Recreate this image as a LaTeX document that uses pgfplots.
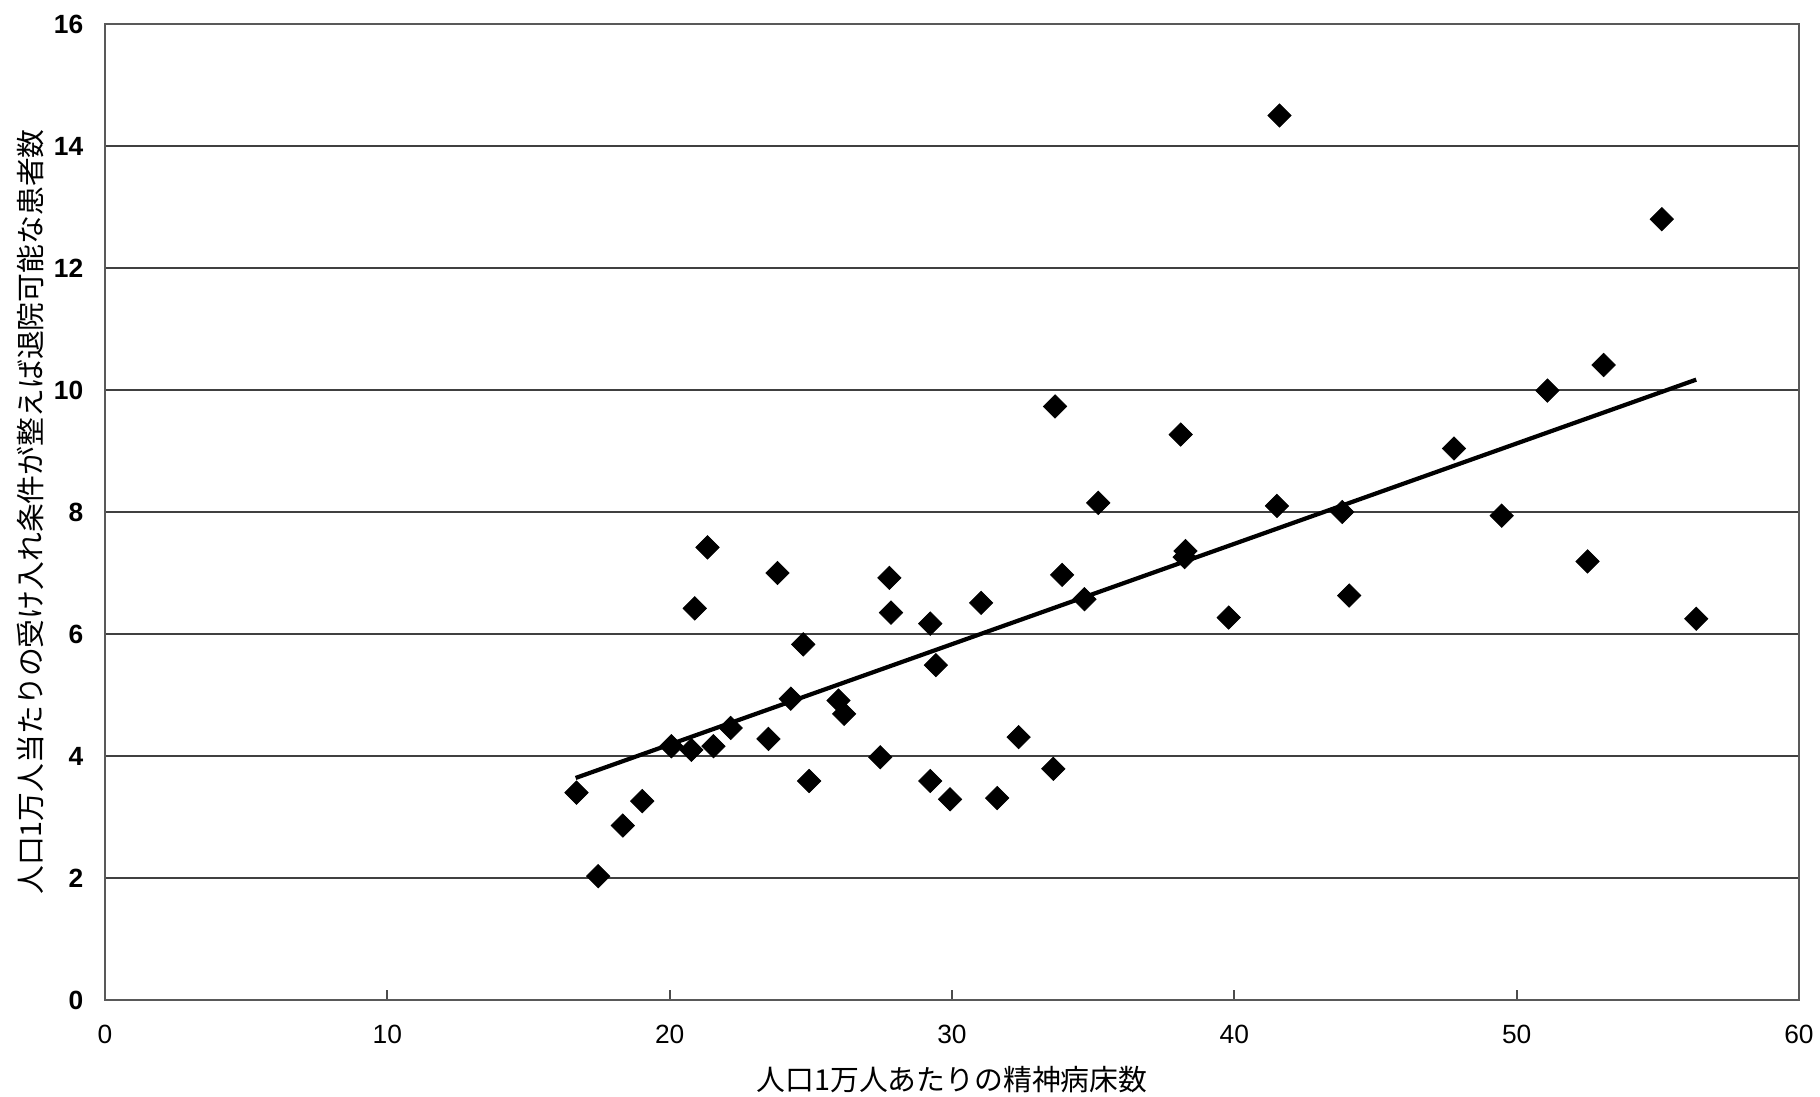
\documentclass[border=0pt]{standalone}
\usepackage{pgfplots}
\pgfplotsset{compat=1.18}
\usepackage{fontspec}
\setmainfont{Liberation Sans}
\newfontfamily\jp{Noto Sans CJK JP}
\begin{document}
\begin{tikzpicture}
\useasboundingbox (-1.05cm,-0.96cm) rectangle (17.15cm,10.00cm);
\begin{axis}[
  at={(0,0)}, anchor=south west,
  scale only axis,
  width=16.94cm, height=9.76cm,
  xmin=0, xmax=60, ymin=0, ymax=16,
  xtick={0,10,...,60}, ytick={0,2,...,16},
  /pgf/number format/assume math mode=true,
  ticklabel style={font=\fontsize{7.5}{8}\selectfont},
  yticklabel style={font=\fontsize{7.5}{8}\selectfont\bfseries, anchor=east, inner sep=0pt, xshift=-0.21cm},
  xticklabel style={anchor=center, inner sep=0pt, yshift=-0.34cm},
  xtick pos=bottom, tick align=inside, major tick length=0.1cm,
  ytick style={draw=none},
  xtick style={black!70, line width=0.5pt},
  ymajorgrids, grid style={black!75, line width=0.45pt},
  axis line style={black!65, line width=0.6pt},
  xlabel={\jp 人口1万人あたりの精神病床数},
  ylabel={\jp 人口1万人当たりの受け入れ条件が整えば退院可能な患者数},
  label style={font=\fontsize{8.2}{9}\selectfont},
  xlabel style={at={(axis description cs:0.5,-0.082)}, anchor=center},
  ylabel style={at={(axis description cs:-0.0437,0.5)}, anchor=center},
]
\addplot[only marks, mark=square*, mark size=2.35pt, mark options={rotate=45, fill=black, draw=black, line width=0.2pt}] coordinates {
(16.70,3.40) (17.47,2.03) (18.34,2.86) (19.03,3.26) (20.06,4.16)
(20.77,4.10) (20.89,6.42) (21.34,7.42) (21.55,4.16) (22.16,4.46)
(23.50,4.28) (23.82,7.00) (24.29,4.94) (24.73,5.83) (24.94,3.59)
(25.98,4.91) (26.18,4.69) (27.46,3.98) (27.78,6.92) (27.84,6.35)
(29.23,6.17) (29.23,3.59) (29.43,5.49) (29.93,3.29) (31.03,6.51)
(31.60,3.31) (32.36,4.31) (33.59,3.79) (33.65,9.73) (33.90,6.97)
(34.69,6.57) (35.18,8.15) (38.10,9.27) (38.27,7.36) (38.24,7.26)
(39.80,6.27) (41.51,8.10) (41.60,14.50) (43.82,8.00) (44.07,6.63)
(47.78,9.04) (49.47,7.94) (51.09,9.99) (52.51,7.19) (53.08,10.41)
(55.14,12.80) (56.36,6.25)
};
\addplot[black, line width=1.2pt, no marks] coordinates {(16.67,3.64) (56.36,10.17)};
\end{axis}
\end{tikzpicture}
\end{document}
